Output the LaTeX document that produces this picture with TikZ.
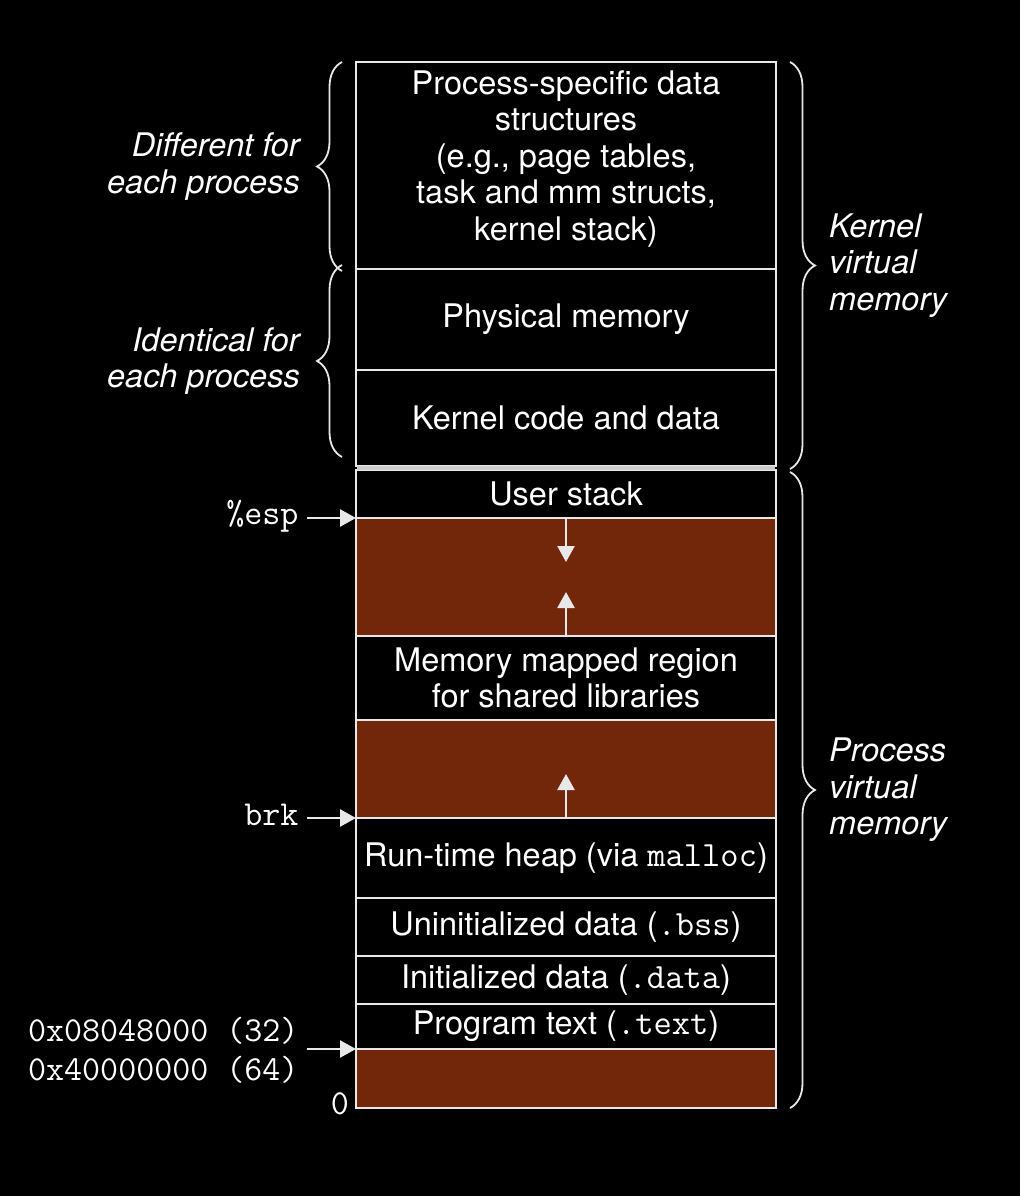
\documentclass[tikz,border=0pt]{standalone}
\usepackage{fontspec}
\setmainfont{TeX Gyre Heros}
\usetikzlibrary{arrows.meta,decorations.pathreplacing}
\definecolor{gapred}{RGB}{115,39,10}
\definecolor{edgegray}{RGB}{232,232,232}
\definecolor{bandgray}{RGB}{205,205,205}
\newcommand\mono[1]{{\ttfamily\fontsize{35.5}{38}\selectfont #1}}
\begin{document}
\begin{tikzpicture}[x=1pt,y=-1pt,
  region/.style={draw=edgegray, line width=2.6pt, minimum width=420pt, inner sep=0pt, outer sep=0pt,
    anchor=north, align=center, text=white, font=\fontsize{32.5}{36.5}\selectfont},
  gapbox/.style={region, fill=gapred},
  arr/.style={draw=edgegray, line width=2.5pt, -{Triangle[width=17pt,length=16pt]}},
  bracepath/.style={draw=edgegray, line width=1.8pt, decorate, decoration={brace, amplitude=25pt}},
  sidelbl/.style={text=white, font=\itshape\fontsize{32.5}{36.5}\selectfont},
  ptr/.style={text=white, font=\ttfamily\fontsize{35}{39}\selectfont}
]
\useasboundingbox (0,0) rectangle (1020,1196);
\fill[black] (0,0) rectangle (1020,1196);

% regions
\node[region, minimum height=207pt] (ps) at (566,62) {};
\node[text=white, align=center, font=\fontsize{32.5}{36.5}\selectfont] (pstext) at (566,159)
  {Process-specific data\\structures\\(e.g., page tables,\\task and mm structs,\\kernel stack)};
\node[region, minimum height=101pt] (phys) at (566,269) {Physical memory};
\node[region, minimum height=96pt] (kcode) at (566,370) {Kernel code and data};
\node[region, minimum height=48pt] (ustack) at (566,470) {User stack};
\node[gapbox, minimum height=118pt] (gapA) at (566,518) {};
\node[region, minimum height=84pt] (mmap) at (566,636) {Memory mapped region\\for shared libraries};
\node[gapbox, minimum height=98pt] (gapB) at (566,720) {};
\node[region, minimum height=80pt] (heap) at (566,818) {Run-time heap (via \mono{malloc})};
\node[region, minimum height=58pt] (bss) at (566,898) {Uninitialized data (\mono{.bss})};
\node[region, minimum height=48pt] (idata) at (566,956) {Initialized data (\mono{.data})};
\node[region, minimum height=45pt] (ptext) at (566,1004) {Program text (\mono{.text})};
\node[gapbox, minimum height=59pt] (gapC) at (566,1049) {};

% double band between kernel and process memory
\fill[bandgray] ([xshift=1pt]kcode.south west) rectangle ([xshift=-1pt]ustack.north east);

% growth arrows
\coordinate (stacktip) at (566,562);
\coordinate (mmaptip) at (566,592);
\coordinate (heaptip) at (566,774);
\draw[arr] (gapA.north) -- (stacktip);
\draw[arr] (gapA.south) -- (mmaptip);
\draw[arr] (gapB.south) -- (heaptip);

% pointer labels
\node[ptr, anchor=east] (esp) at (302,516) {\%esp};
\node[ptr, anchor=east] (brk) at (302,815) {brk};
\node[ptr, anchor=east, align=right] (addr) at (302,1050) {0x08048000 (32)\\0x40000000 (64)};
\node[ptr] (zero) at (340,1104) {0};
\draw[arr] ([xshift=5pt]esp.east |- gapA.north west) -- (gapA.north west);
\draw[arr] ([xshift=5pt]brk.east |- gapB.south west) -- (gapB.south west);
\draw[arr] ([xshift=5pt]addr.east |- gapC.north west) -- (gapC.north west);

% braces left
\draw[bracepath] ([xshift=-14pt,yshift=-2pt]ps.south west) -- ([xshift=-14pt]ps.north west)
  node[midway, left=38pt, sidelbl, align=right] (diff) {Different for\\each process};
\draw[bracepath] ([xshift=-14pt,yshift=9pt]kcode.south west) -- ([xshift=-14pt,yshift=4pt]phys.north west)
  node[midway, left=38pt, sidelbl, align=right] (ident) {Identical for\\each process};

% braces right
\draw[bracepath] ([xshift=14pt]ps.north east) -- ([xshift=14pt,yshift=-3pt]kcode.south east)
  node[midway, right=35pt, sidelbl, align=left] (kvm) {Kernel\\virtual\\memory};
\draw[bracepath] ([xshift=14pt,yshift=-2pt]ustack.north east) -- ([xshift=14pt]gapC.south east)
  node[midway, right=35pt, sidelbl, align=left] (pvm) {Process\\virtual\\memory};
\end{tikzpicture}
\end{document}
